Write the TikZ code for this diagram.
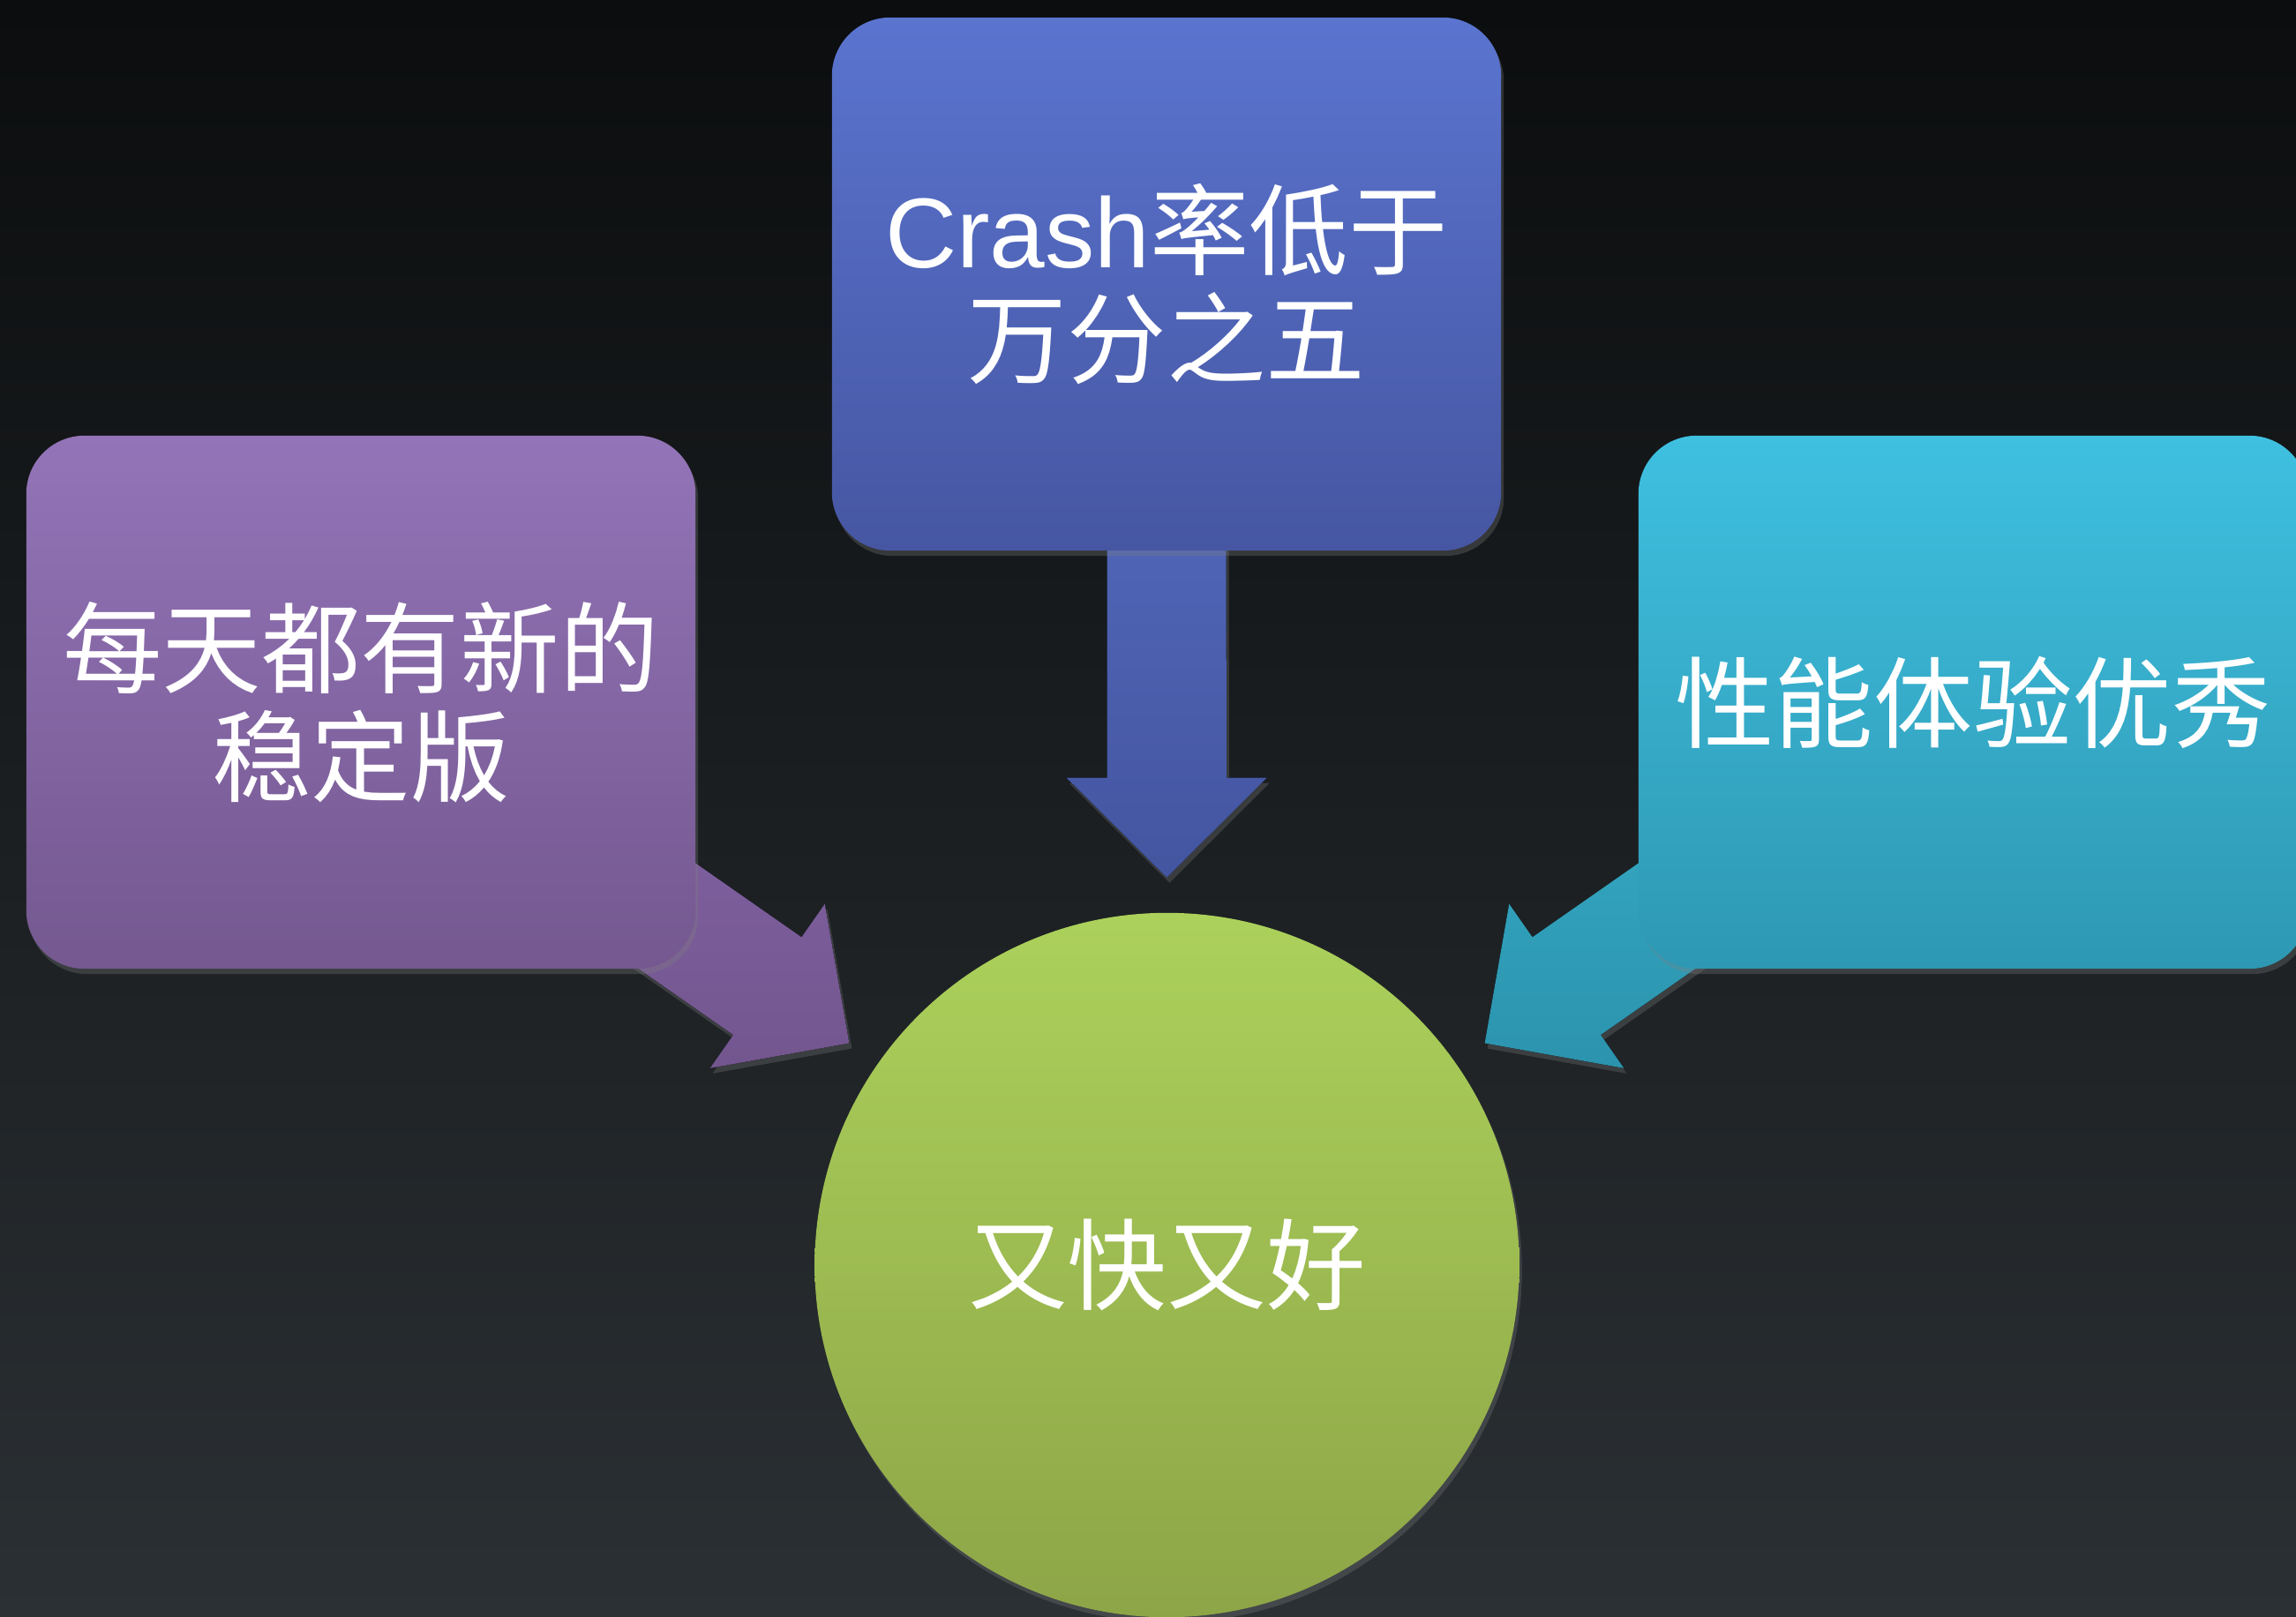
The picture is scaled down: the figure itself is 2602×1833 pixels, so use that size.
\documentclass[tikz,border=0pt]{standalone}
\usepackage{fontspec}
\setmainfont{Liberation Sans}
\newfontfamily\cjk{Noto Sans CJK SC}
\usetikzlibrary{calc,shadows}
\definecolor{bgtop}{HTML}{0B0D0E}
\definecolor{bgbot}{HTML}{2B3034}
\definecolor{bluetop}{HTML}{5A74CF}
\definecolor{bluebot}{HTML}{4656A2}
\definecolor{purtop}{HTML}{9374B8}
\definecolor{purbot}{HTML}{74588F}
\definecolor{cyantop}{HTML}{3FC0E0}
\definecolor{cyanbot}{HTML}{2E98B3}
\definecolor{greentop}{HTML}{ACD15B}
\definecolor{greenbot}{HTML}{8DA547}
\definecolor{barrtop}{HTML}{5870C6}
\definecolor{barrbot}{HTML}{4455A0}
\definecolor{parrtop}{HTML}{8666AC}
\definecolor{parrbot}{HTML}{73568E}
\definecolor{carrtop}{HTML}{38B2CE}
\definecolor{carrbot}{HTML}{2C93AD}
\pgfdeclarelayer{bg}
\pgfdeclarelayer{arrows}
\pgfsetlayers{bg,arrows,main}
\newcommand\myarrow[3]{%
  \coordinate (hb) at ($(#2)!1.13cm!(#1)$);
  \fill[#3] ($(#1)!0.675cm!90:(#2)$) -- ($(hb)!0.675cm!90:(#2)$) -- ($(hb)!1.135cm!90:(#2)$) -- (#2)
    -- ($(hb)!1.135cm!-90:(#2)$) -- ($(hb)!0.675cm!-90:(#2)$) -- ($(#1)!0.675cm!-90:(#2)$) -- cycle;}
\begin{document}
\begin{tikzpicture}[x=0.01cm,y=-0.01cm,
  box/.style={rectangle, rounded corners=0.66cm, minimum width=7.58cm, minimum height=6.04cm,
    align=center, text=white, font=\fontsize{32}{35}\selectfont,
    drop shadow={opacity=0.3, shadow xshift=0.03cm, shadow yshift=-0.06cm}},
  arrowfill/.style={drop shadow={opacity=0.3, shadow xshift=0.03cm, shadow yshift=-0.06cm}}]
\useasboundingbox (0,0) rectangle (2602,1833);
\clip (0,0) rectangle (2602,1833);
\begin{pgfonlayer}{bg}
\shade[top color=bgtop, bottom color=bgbot] (0,0) rectangle (2602,1833);
\end{pgfonlayer}
\node[box, top color=bluetop, bottom color=bluebot] (T) at (1322,322)
  {Crash{\cjk 率低于}\\{\cjk 万分之五}};
\node[box, top color=purtop, bottom color=purbot, font=\cjk\fontsize{32}{35}\selectfont] (L) at (409,796)
  {每天都有新的\\稳定版};
\node[box, top color=cyantop, bottom color=cyanbot, font=\cjk\fontsize{32}{35}\selectfont] (R) at (2236,796)
  {性能体验优秀};
\node[circle, minimum size=7.98cm, inner sep=0pt, top color=greentop, bottom color=greenbot,
  text=white, font=\cjk\fontsize{32}{35}\selectfont,
  drop shadow={opacity=0.3, shadow xshift=0.03cm, shadow yshift=-0.06cm}] (C) at (1322.5,1434) {又快又好};
\coordinate (tT) at ($(C.center)!4.39cm!(T.center)$);
\coordinate (tL) at ($(C.center)!4.39cm!(L.center)$);
\coordinate (tR) at ($(C.center)!4.39cm!(R.center)$);
\begin{pgfonlayer}{arrows}
\myarrow{T.center}{tT}{top color=barrtop, bottom color=barrbot, arrowfill}
\myarrow{L.center}{tL}{top color=parrtop, bottom color=parrbot, arrowfill}
\myarrow{R.center}{tR}{top color=carrtop, bottom color=carrbot, arrowfill}
\end{pgfonlayer}
\end{tikzpicture}
\end{document}
